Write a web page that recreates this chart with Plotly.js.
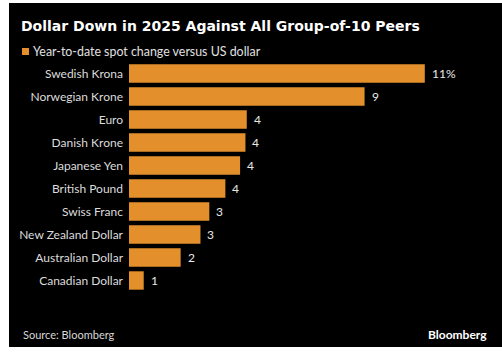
<!DOCTYPE html>
<html>
<head>
<meta charset="utf-8">
<script src="https://cdn.plot.ly/plotly-3.0.1.min.js"></script>
<style>
  html, body { margin: 0; padding: 0; background: #ffffff; width: 502px; height: 352px; overflow: hidden; }
  #chart { position: absolute; left: 9px; top: 3px; width: 493px; height: 344px; }
</style>
</head>
<body>
<div id="chart"></div>
<script>
const currencies = ["Swedish Krona", "Norwegian Krone", "Euro", "Danish Krone", "Japanese Yen",
  "British Pound", "Swiss Franc", "New Zealand Dollar", "Australian Dollar", "Canadian Dollar"];
const ytdChange = [11.05, 8.8, 4.4, 4.35, 4.15, 3.6, 3.0, 2.67, 1.93, 0.55];
const valueLabels = ["11%", "9", "4", "4", "4", "4", "3", "3", "2", "1"];
const seriesName = "Year-to-date spot change versus US dollar";
const titleText = "Dollar Down in 2025 Against All Group-of-10 Peers";
const sourceText = "Source: Bloomberg";
const brandText = "Bloomberg";

const FONT = "Lato, 'Noto Sans', sans-serif";
const TITLE_FONT = "'DejaVu Sans', sans-serif";
const ORANGE = "#E3902C";

const trace = {
  type: "bar",
  orientation: "h",
  x: ytdChange,
  y: currencies,
  name: seriesName,
  marker: { color: ORANGE },
  hoverinfo: "skip",
  showlegend: false
};

const annotations = currencies.map((c, i) => ({
  x: ytdChange[i], y: c, xref: "x", yref: "y",
  text: valueLabels[i], showarrow: false,
  xanchor: "left", yanchor: "middle", xshift: 5,
  font: { family: FONT, size: 12, color: "#e8e8e8" }
}));

annotations.push(
  { xref: "paper", yref: "paper", x: (22 - 120) / 348, y: (289 - 48.5) / 230,
    text: seriesName, showarrow: false, xanchor: "left", yanchor: "middle",
    font: { family: FONT, size: 12.4, color: "#e0e0e0" } },
  { xref: "paper", yref: "paper", x: (12 - 120) / 348, y: (289 - 331) / 230,
    text: sourceText, showarrow: false, xanchor: "left", yanchor: "middle",
    font: { family: FONT, size: 11, color: "#d8d8d8" } },
  { xref: "paper", yref: "paper", x: (480 - 120) / 348, y: (289 - 331) / 230,
    text: "<b>" + brandText + "</b>", showarrow: false, xanchor: "right", yanchor: "middle",
    font: { family: FONT, size: 12, color: "#ffffff" } }
);

const layout = {
  width: 493, height: 344,
  paper_bgcolor: "#000000", plot_bgcolor: "#000000",
  margin: { l: 120, r: 25, t: 59, b: 55, pad: 0 },
  bargap: 0.2,
  title: {
    text: "<b>" + titleText + "</b>",
    xref: "container", yref: "container",
    x: 12 / 493, xanchor: "left",
    y: 1 - 23 / 344, yanchor: "middle",
    font: { family: TITLE_FONT, size: 14, color: "#ffffff" }
  },
  xaxis: {
    range: [0, 13], showgrid: false, zeroline: false, showticklabels: false,
    showline: false, fixedrange: true
  },
  yaxis: {
    type: "category", autorange: "reversed", showgrid: false, zeroline: false,
    showline: false, ticks: "", ticklabelstandoff: 5,
    tickfont: { family: FONT, size: 12, color: "#dcdcdc" }, fixedrange: true
  },
  shapes: [
    { type: "rect", xref: "paper", yref: "paper",
      x0: (13 - 120) / 348, x1: (20 - 120) / 348,
      y0: (289 - 52) / 230, y1: (289 - 45) / 230,
      fillcolor: ORANGE, line: { width: 0 } }
  ],
  annotations: annotations,
  showlegend: false
};

Plotly.newPlot("chart", [trace], layout, { displayModeBar: false, staticPlot: true });
</script>
</body>
</html>
